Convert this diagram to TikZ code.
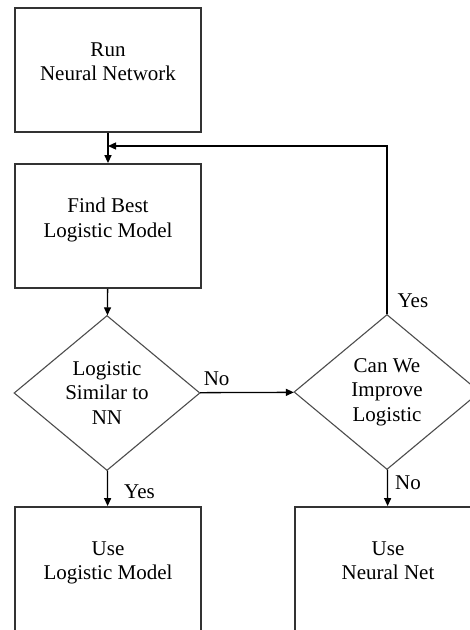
\documentclass[tikz,border=0pt]{standalone}
\usepackage{fontspec}
\setmainfont{Liberation Serif}
\usetikzlibrary{shapes.geometric,arrows.meta}

\tikzset{
  stepbox/.style={draw=black!80, line width=1.8pt, minimum width=186pt,
    minimum height=124pt, inner sep=0pt, align=center, text depth=17pt},
  decision/.style={diamond, draw=black!70, line width=1.1pt, aspect=1.2,
    minimum width=186pt, minimum height=155pt, inner sep=0pt, align=center},
  flow/.style={line width=1.3pt, -{Triangle[length=8pt,width=7pt]}},
  answer/.style={inner sep=0pt, anchor=west}
}

\begin{document}
\begin{tikzpicture}[x=1pt, y=-1pt, every node/.style={font=\fontsize{21}{24.5}\selectfont}]
    \useasboundingbox (0,0) rectangle (470,630);
    \clip (0,0) rectangle (470,630);
    % left column
    \node[stepbox] (run) at (108,70) {Run\\Neural Network};
    \node[stepbox] (find) at (108,226) {Find Best\\Logistic Model};
    \node[decision] (similar) at (107,393) {Logistic\\Similar to\\NN};
    \node[stepbox] (uselog) at (108,569) {Use\\Logistic Model};
    % right column
    \node[decision] (improve) at (387,392) {Can We\\Improve\\Logistic};
    \node[stepbox] (usenn) at (388,569) {Use\\Neural Net};
    % connectors
    \coordinate (back) at (108,146);
    \draw[flow] (run) -- (find);
    \draw[flow] (find) -- (similar);
    \draw[flow] (similar) -- node[answer, pos=0.6, xshift=16pt] {Yes} (uselog);
    \draw[flow] (similar) -- node[answer, pos=0, anchor=base west, xshift=3pt, yshift=7pt] {No} (improve);
    \draw[flow] (improve) -- node[answer, pos=0.36, xshift=7pt] {No} (usenn);
    \draw[flow] (improve) |- node[answer, pos=0.04, xshift=10pt] {Yes} (back);
\end{tikzpicture}
\end{document}
